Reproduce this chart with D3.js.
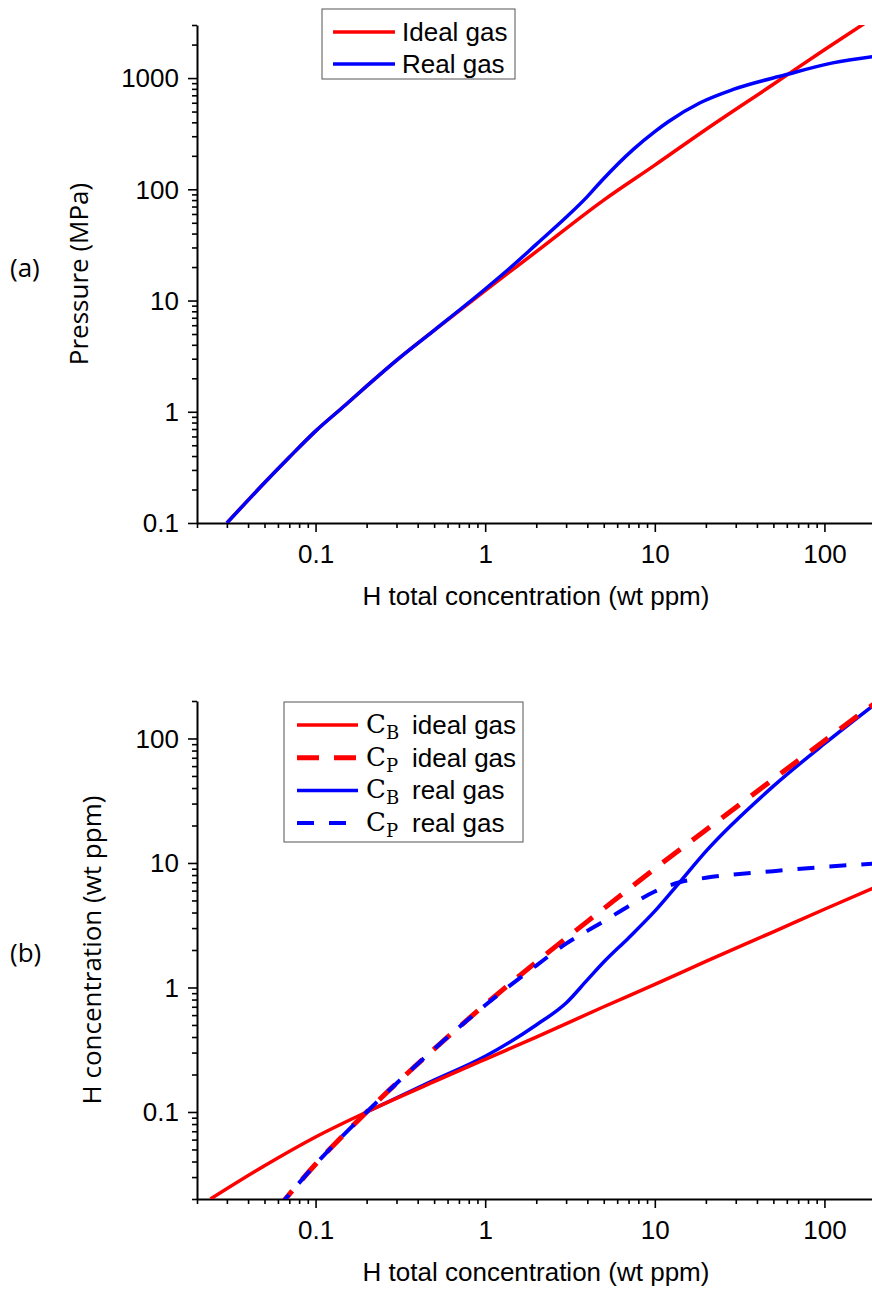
<!DOCTYPE html>
<meta charset="utf-8">
<style>
body,html{
  margin: 0;
  padding: 0;
  background: #fff;
}
svg{ display: block; }
.tick text{
  font-family: "Liberation Sans", Arial, sans-serif;
  font-size: 26px;
  fill: #000;
}
.axis path{ stroke: #000; stroke-width: 2px; }
.axis line{ stroke: #000; stroke-width: 1.6px; }
.ttl{ font-family: "Liberation Sans", Arial, sans-serif; font-size: 26px; fill: #000; }
.ytl{ font-family: "Open Sans", sans-serif; font-size: 26px; fill: #000; }
</style>
<svg width="872" height="1289"></svg>
<script src="https://d3js.org/d3.v7.min.js"></script>
<script>

var svg = d3.select("svg");

// x of both panels: H total concentration (wt ppm)
var xMajor = [0.1, 1, 10, 100];

// (a) pressure in MPa
var aYMajor = [0.1, 1, 10, 100, 1000];
var aIdealX = [0.03, 0.05, 0.07, 0.1, 0.15, 0.2, 0.3, 0.5, 1, 2, 5, 10, 20, 50, 100, 200];
var aIdealP = [0.1, 0.23, 0.39, 0.67, 1.15, 1.7, 2.9, 5.4, 12.3, 27.5, 80, 165, 345, 880, 1800, 3600];
var aRealX = [0.03, 0.05, 0.07, 0.1, 0.15, 0.2, 0.3, 0.5, 1, 1.5, 2, 3, 4, 4.8, 7.5, 10, 12, 18.5, 29, 59, 112, 200];
var aRealP = [0.1, 0.23, 0.39, 0.67, 1.15, 1.7, 2.9, 5.4, 12.7, 21.5, 32, 56, 86, 117, 230, 330, 405, 600, 790, 1070, 1370, 1570];

// (b) H concentration in wt ppm
var bYMajor = [0.1, 1, 10, 100];
var cbIdealX = [0.024, 0.05, 0.1, 0.2, 0.5, 1, 2, 5, 10, 20, 50, 100, 200];
var cbIdeal  = [0.02, 0.037, 0.063, 0.1, 0.175, 0.265, 0.40, 0.70, 1.06, 1.62, 2.8, 4.25, 6.4];
var cpIdealX = [0.06, 0.1, 0.2, 0.5, 1, 2, 5, 10, 20, 50, 100, 200];
var cpIdeal  = [0.017, 0.038, 0.1, 0.32, 0.73, 1.6, 4.3, 9.0, 18.4, 47.2, 96, 194];
var cbRealX = [0.2, 0.5, 1, 2, 3, 4, 5, 7, 10, 14, 20, 50, 100, 200];
var cbReal  = [0.1, 0.18, 0.28, 0.5, 0.75, 1.15, 1.6, 2.5, 4.1, 7.0, 12.4, 41.4, 90.7, 190];
var cpRealX = [0.06, 0.1, 0.2, 0.5, 1, 2, 3, 4, 5, 7, 10, 14, 20, 50, 100, 200];
var cpReal  = [0.017, 0.038, 0.1, 0.32, 0.72, 1.5, 2.25, 2.85, 3.4, 4.5, 5.9, 7.0, 7.6, 8.6, 9.3, 9.9];

var RED = "#ff0000", BLUE = "#0000ff";
var fmt = d3.format("~g");

var x = d3.scaleLog().domain([0.02, 200]).range([197, 875.5]);

function zip(xs, ys) { return xs.map(function(v, i) { return [v, ys[i]]; }); }

function panel(id, y, yMajor, top, bottom) {
  var g = svg.append("g");
  g.append("clipPath").attr("id", id)
    .append("rect").attr("x", 197).attr("y", top).attr("width", 700).attr("height", bottom - top);

  var xMinor = x.ticks().filter(function(d) { return xMajor.indexOf(d) < 0; });
  var yMinor = y.ticks().filter(function(d) { return yMajor.indexOf(d) < 0; });

  g.append("g").attr("class", "axis").attr("transform", "translate(0," + bottom + ")")
    .call(d3.axisBottom(x).tickValues(xMinor).tickSize(5).tickFormat("").tickSizeOuter(0))
    .select(".domain").remove();
  g.append("g").attr("class", "axis").attr("transform", "translate(0," + bottom + ")")
    .call(d3.axisBottom(x).tickValues(xMajor).tickSize(9).tickPadding(13).tickSizeOuter(0).tickFormat(fmt));

  g.append("g").attr("class", "axis").attr("transform", "translate(197,0)")
    .call(d3.axisLeft(y).tickValues(yMinor).tickSize(5).tickFormat("").tickSizeOuter(0))
    .select(".domain").remove();
  g.append("g").attr("class", "axis").attr("transform", "translate(197,0)")
    .call(d3.axisLeft(y).tickValues(yMajor).tickSize(9).tickPadding(9).tickSizeOuter(0).tickFormat(fmt))
    .selectAll(".tick text").attr("dy", "0.34em");

  g.append("text").attr("class", "ttl").attr("x", 536).attr("y", bottom + 82)
    .attr("text-anchor", "middle").text("H total concentration (wt ppm)");

  var plot = g.append("g").attr("clip-path", "url(#" + id + ")");
  return plot;
}

function curve(plot, y, pts, color, width, dash) {
  var line = d3.line()
    .x(function(d) { return x(d[0]); })
    .y(function(d) { return y(d[1]); })
    .curve(d3.curveMonotoneX);
  plot.append("path").datum(pts)
    .attr("d", line)
    .attr("fill", "none")
    .attr("stroke", color)
    .attr("stroke-width", width)
    .attr("stroke-dasharray", dash || null);
}

// ---- panel (a)
var ya = d3.scaleLog().domain([0.1, 3000]).range([523, 25]);
var pa = panel("clipA", ya, aYMajor, 25, 523);
curve(pa, ya, zip(aIdealX, aIdealP), RED, 3.5);
curve(pa, ya, zip(aRealX, aRealP), BLUE, 3.5);

svg.append("text").attr("class", "ytl")
  .attr("transform", "translate(88,274) rotate(-90)")
  .attr("text-anchor", "middle").text("Pressure (MPa)");
svg.append("text").attr("class", "ytl").attr("x", 10).attr("y", 277).text("(a)");

var lega = svg.append("g");
lega.append("rect").attr("x", 322).attr("y", 9).attr("width", 193).attr("height", 70)
  .attr("fill", "#fff").attr("stroke", "#555").attr("stroke-width", 1);
[["Ideal gas", RED], ["Real gas", BLUE]].forEach(function(d, i) {
  var cy = 32 + i * 32;
  lega.append("line").attr("x1", 333).attr("x2", 395).attr("y1", cy).attr("y2", cy)
    .attr("stroke", d[1]).attr("stroke-width", 3.5);
  lega.append("text").attr("class", "ttl").attr("x", 402).attr("y", cy + 9).text(d[0]);
});

// ---- panel (b)
var yb = d3.scaleLog().domain([0.02, 200]).range([1199, 701]);
var pb = panel("clipB", yb, bYMajor, 701, 1199);
curve(pb, yb, zip(cbRealX, cbReal), BLUE, 3.5);
curve(pb, yb, zip(cbIdealX, cbIdeal), RED, 3.5);
curve(pb, yb, zip(cpIdealX, cpIdeal), RED, 5, "22,15");
curve(pb, yb, zip(cpRealX, cpReal), BLUE, 4, "17,15");

svg.append("text").attr("class", "ytl")
  .attr("transform", "translate(101,950) rotate(-90)")
  .attr("text-anchor", "middle").text("H concentration (wt ppm)");
svg.append("text").attr("class", "ytl").attr("x", 10).attr("y", 962).text("(b)");

var legb = svg.append("g");
legb.append("rect").attr("x", 284).attr("y", 702).attr("width", 239).attr("height", 140)
  .attr("fill", "#fff").attr("stroke", "#555").attr("stroke-width", 1);
var legItems = [
  ["B", "ideal gas", RED, 3.5, null],
  ["P", "ideal gas", RED, 5, "22,15"],
  ["B", "real gas", BLUE, 3.5, null],
  ["P", "real gas", BLUE, 4, "17,15"]
];
legItems.forEach(function(d, i) {
  var cy = 725 + i * 32.7;
  legb.append("line").attr("x1", 297).attr("x2", 358).attr("y1", cy).attr("y2", cy)
    .attr("stroke", d[2]).attr("stroke-width", d[3]).attr("stroke-dasharray", d[4]);
  var c = legb.append("text").attr("x", 366).attr("y", cy + 8)
    .style("font-family", "'DejaVu Serif', serif").style("font-size", "26px");
  c.append("tspan").text("C");
  c.append("tspan").attr("dy", 6).style("font-size", "18px").text(d[0]);
  legb.append("text").attr("class", "ttl").attr("x", 412).attr("y", cy + 9).text(d[1]);
});

</script>
